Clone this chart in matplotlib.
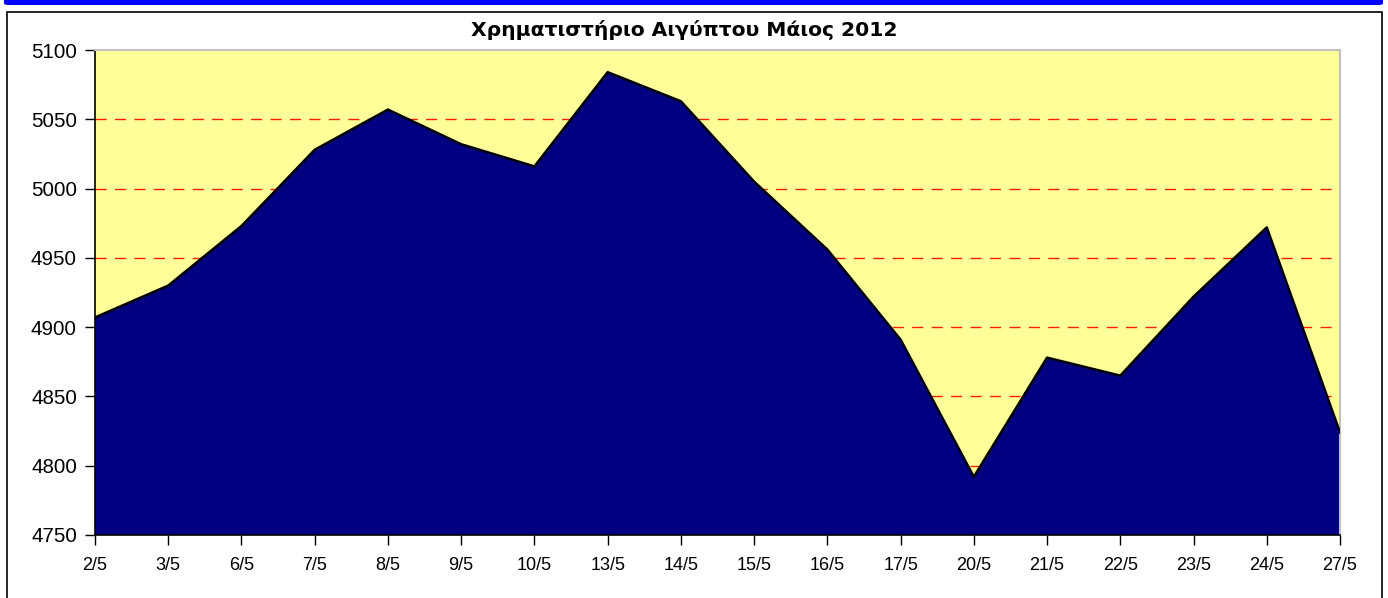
import matplotlib
matplotlib.use("Agg")
import matplotlib.pyplot as plt
from matplotlib.patches import Rectangle, FancyBboxPatch

dates = ["2/5", "3/5", "6/5", "7/5", "8/5", "9/5", "10/5", "13/5", "14/5",
         "15/5", "16/5", "17/5", "20/5", "21/5", "22/5", "23/5", "24/5", "27/5"]
values = [4907, 4930, 4973, 5028, 5057, 5032, 5016, 5084, 5063,
          5005, 4956, 4891, 4792, 4878, 4865, 4922, 4972, 4824]
yticks = [4750, 4800, 4850, 4900, 4950, 5000, 5050, 5100]
title = "Χρηματιστήριο Αιγύπτου Μάιος 2012"

W, H = 1388, 598
fig = plt.figure(figsize=(W / 100, H / 100), dpi=100)
fig.patch.set_facecolor("white")

# top blue bar
fig.patches.append(FancyBboxPatch((4 / W, 1 - 5 / H), 1379 / W, 8 / H,
                                  boxstyle="round,pad=0,rounding_size=0.003",
                                  transform=fig.transFigure, facecolor="#0000FF",
                                  edgecolor="none", zorder=0))
# outer chart border
fig.patches.append(Rectangle((7 / W, -0.01), 1375 / W, 1 - 12 / H + 0.01,
                             transform=fig.transFigure, facecolor="none",
                             edgecolor="black", linewidth=1.2, zorder=0))

left, right, top, bottom = 95, 1340, 50, 535
ax = fig.add_axes([left / W, 1 - bottom / H, (right - left) / W, (bottom - top) / H])
ax.set_facecolor("#FFFF99")

x = list(range(len(dates)))
for yv in yticks[1:-1]:
    ax.axhline(yv, color="#FF2000", linestyle=(0, (8, 6)), linewidth=1.0, zorder=1)
ax.fill_between(x, values, 4750, facecolor="#000080", edgecolor="none", zorder=2)
ax.plot(x, values, color="black", linewidth=1.8, zorder=3)

ax.set_xlim(0, len(dates) - 1)
ax.set_ylim(4750, 5100)
ax.set_xticks(x)
ax.set_xticklabels(dates, fontsize=13, family="Liberation Sans")
ax.set_yticks(yticks)
ax.set_yticklabels([str(v) for v in yticks], fontsize=14.8, family="Liberation Sans")
ax.tick_params(axis="both", direction="out", length=7, width=1, color="black")
ax.tick_params(axis="y", pad=6)
ax.tick_params(axis="x", pad=9)

for s in ["top", "right"]:
    ax.spines[s].set_color("#C0C0C0")
    ax.spines[s].set_linewidth(1.5)
for s in ["left", "bottom"]:
    ax.spines[s].set_color("black")
    ax.spines[s].set_linewidth(1.2)

fig.text(684 / W, 1 - 30 / H, title, ha="center", va="center", fontsize=14.6,
         fontweight="bold", family="DejaVu Sans")

fig.savefig("out.png", dpi=100)
